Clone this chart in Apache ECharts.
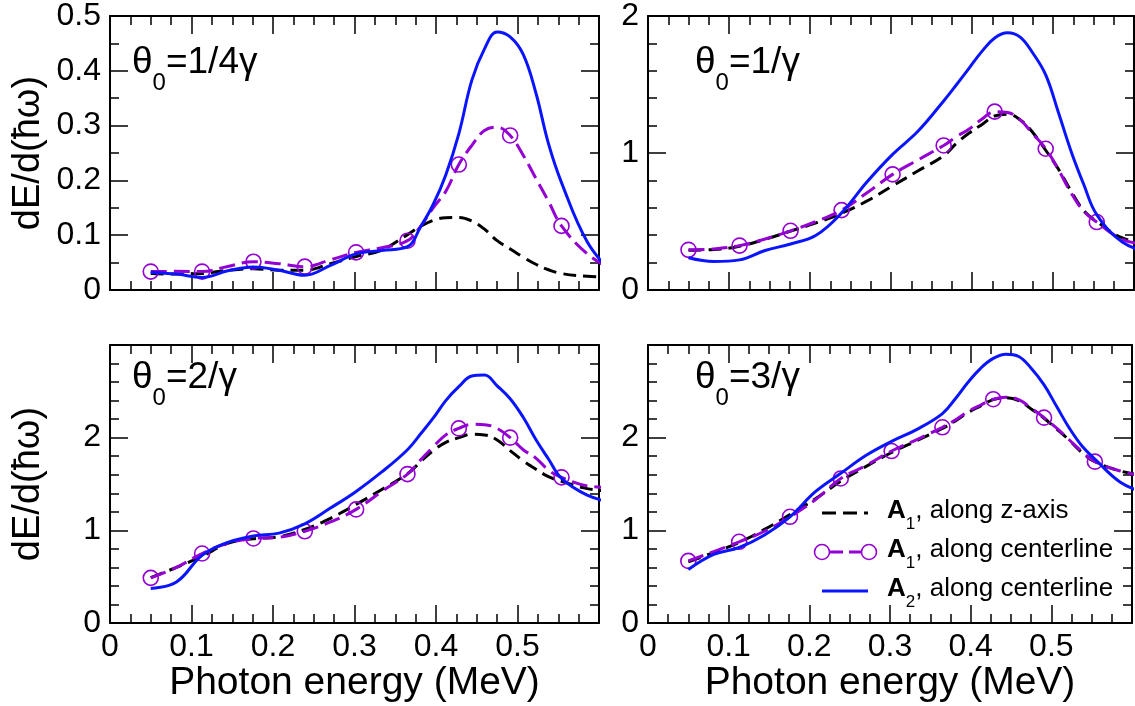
<!DOCTYPE html>
<html>
<head>
<meta charset="utf-8">
<script src="https://cdn.jsdelivr.net/npm/echarts@6/dist/echarts.min.js"></script>
<style>html,body{margin:0;padding:0;background:#fff}#c{width:1135px;height:706px}</style>
</head>
<body>
<div id="c"></div>
<script>
// ---- data (photon energy in MeV, dE/d(hbar omega)) ----
const X = [0.05, 0.0815, 0.113, 0.1445, 0.176, 0.2075, 0.239, 0.2705, 0.302, 0.3335, 0.365, 0.381, 0.3965, 0.412, 0.428, 0.444, 0.4595, 0.475, 0.491, 0.507, 0.5225, 0.538, 0.554, 0.5855, 0.617];
// x positions carrying the circle markers of the "A1, along centerline" curves
const markerX = [0.05, 0.113, 0.176, 0.239, 0.302, 0.365, 0.428, 0.491, 0.554];

// theta0 = 1/(4 gamma)
const tlZaxisA1 = [0.030, 0.029, 0.030, 0.036, 0.039, 0.036, 0.036, 0.048, 0.061, 0.073, 0.101, 0.116, 0.127, 0.132, 0.1325, 0.126, 0.111, 0.090, 0.075, 0.060, 0.047, 0.037, 0.030, 0.025, 0.023];
const tlCenterA1 = [0.0336, 0.034, 0.0336, 0.043, 0.0516, 0.048, 0.0426, 0.055, 0.0687, 0.077, 0.090, 0.116, 0.150, 0.18, 0.229, 0.264, 0.291, 0.297, 0.282, 0.246, 0.204, 0.162, 0.117, 0.066, 0.036];
const tlCenterA2 = [0.032, 0.029, 0.023, 0.035, 0.042, 0.036, 0.027, 0.045, 0.066, 0.072, 0.079, 0.115, 0.156, 0.21, 0.285, 0.383, 0.44, 0.471, 0.462, 0.43, 0.36, 0.267, 0.196, 0.088, 0.030];

// theta0 = 1/gamma
const trZaxisA1 = [0.29, 0.295, 0.32, 0.37, 0.43, 0.49, 0.56, 0.65, 0.76, 0.87, 0.98, 1.072, 1.146, 1.207, 1.27, 1.283, 1.242, 1.15, 1.02, 0.88, 0.72, 0.58, 0.50, 0.38, 0.34];
const trCenterA1 = [0.293, 0.30, 0.324, 0.372, 0.432, 0.50, 0.583, 0.71, 0.844, 0.95, 1.055, 1.12, 1.175, 1.247, 1.302, 1.295, 1.242, 1.14, 1.031, 0.875, 0.707, 0.575, 0.496, 0.37, 0.33];
const trCenterA2 = [0.235, 0.208, 0.22, 0.288, 0.336, 0.40, 0.563, 0.79, 0.99, 1.16, 1.38, 1.50, 1.62, 1.74, 1.84, 1.878, 1.846, 1.73, 1.57, 1.29, 1.01, 0.77, 0.55, 0.35, 0.28];

// theta0 = 2/gamma
const blZaxisA1 = [0.49, 0.60, 0.72, 0.86, 0.91, 0.93, 1.01, 1.13, 1.28, 1.44, 1.61, 1.74, 1.86, 1.95, 2.00, 2.036, 2.03, 1.975, 1.86, 1.75, 1.66, 1.58, 1.53, 1.45, 1.42];
const blCenterA1 = [0.487, 0.60, 0.75, 0.86, 0.912, 0.925, 0.99, 1.09, 1.226, 1.42, 1.607, 1.76, 1.90, 2.03, 2.10, 2.144, 2.14, 2.10, 2.00, 1.87, 1.78, 1.65, 1.572, 1.48, 1.46];
const blCenterA2 = [0.372, 0.443, 0.73, 0.87, 0.94, 0.97, 1.07, 1.24, 1.42, 1.63, 1.87, 2.04, 2.21, 2.40, 2.55, 2.665, 2.675, 2.56, 2.42, 2.22, 1.98, 1.77, 1.56, 1.38, 1.30];

// theta0 = 3/gamma
const brZaxisA1 = [0.66, 0.76, 0.87, 1.01, 1.17, 1.34, 1.53, 1.69, 1.84, 1.97, 2.10, 2.18, 2.27, 2.34, 2.41, 2.43, 2.40, 2.31, 2.21, 2.09, 1.97, 1.84, 1.74, 1.64, 1.59];
const brCenterA1 = [0.67, 0.77, 0.876, 0.99, 1.146, 1.33, 1.56, 1.70, 1.856, 1.98, 2.112, 2.19, 2.28, 2.35, 2.415, 2.437, 2.41, 2.32, 2.216, 2.10, 1.975, 1.85, 1.741, 1.64, 1.58];
const brCenterA2 = [0.577, 0.74, 0.815, 0.95, 1.146, 1.417, 1.615, 1.81, 1.96, 2.09, 2.26, 2.42, 2.595, 2.746, 2.855, 2.90, 2.876, 2.75, 2.57, 2.33, 2.10, 1.91, 1.77, 1.52, 1.40];

// tick labels
const xTickLabels = ['0', '0.1', '0.2', '0.3', '0.4', '0.5', ''];
const yTickLabelsTL = ['0', '0.1', '0.2', '0.3', '0.4', '0.5'];
const yTickLabelsTR = ['0', '1', '2'];
const yTickLabelsBottom = ['0', '1', '2', ''];

const seriesNames = ['A1, along z-axis', 'A1, along centerline', 'A2, along centerline'];
const panelTitles = ['=1/4γ', '=1/γ', '=2/γ', '=3/γ'];

// ---- layout & style ----
const FONT = 'Liberation Sans, Arial, Helvetica, sans-serif';
const BLACK = '#000000', PURPLE = '#9400d3', BLUE = '#0a14ff';

const panels = [
  { grid: { left: 110, top: 13, width: 489, height: 277 }, yMax: 0.5, yInt: 0.1, yMinor: 2, yLabels: yTickLabelsTL, bottom: false, left: true, title: [132, 44], data: [tlZaxisA1, tlCenterA1, tlCenterA2] },
  { grid: { left: 648, top: 13, width: 486, height: 277 }, yMax: 2, yInt: 1, yMinor: 5, yLabels: yTickLabelsTR, bottom: false, left: false, title: [695, 44], data: [trZaxisA1, trCenterA1, trCenterA2] },
  { grid: { left: 110, top: 345, width: 489, height: 278 }, yMax: 3, yInt: 1, yMinor: 5, yLabels: yTickLabelsBottom, bottom: true, left: true, title: [132, 359], data: [blZaxisA1, blCenterA1, blCenterA2] },
  { grid: { left: 648, top: 345, width: 486, height: 278 }, yMax: 3, yInt: 1, yMinor: 5, yLabels: yTickLabelsBottom, bottom: true, left: false, title: [695, 359], data: [brZaxisA1, brCenterA1, brCenterA2] }
];

const lineAxis = { show: true, onZero: false, lineStyle: { color: BLACK, width: 2 } };
const tick = { show: true, inside: true, length: 18, lineStyle: { color: BLACK, width: 1.5 } };
function minor(n) { return { show: true, splitNumber: n, length: 9, lineStyle: { color: BLACK, width: 1.5 } }; }

const grids = [], xAxes = [], yAxes = [], series = [], titles = [];

panels.forEach((p, i) => {
  grids.push(Object.assign({}, p.grid));
  const xBase = { gridIndex: i, type: 'value', min: 0, max: 0.6, interval: 0.1, axisLine: lineAxis, axisTick: tick, minorTick: minor(4), splitLine: { show: false } };
  xAxes.push(Object.assign({}, xBase, {
    position: 'bottom',
    axisLabel: { show: p.bottom, margin: 8, color: BLACK, fontSize: 32, fontFamily: FONT, formatter: (v) => xTickLabels[Math.round(v / 0.1)] || '' },
    name: p.bottom ? 'Photon energy (MeV)' : '', nameLocation: 'middle', nameGap: 40,
    nameTextStyle: { color: BLACK, fontSize: 39, fontFamily: FONT }
  }));
  xAxes.push(Object.assign({}, xBase, { position: 'top', axisLabel: { show: false } }));
  const yBase = { gridIndex: i, type: 'value', min: 0, max: p.yMax, interval: p.yInt, axisLine: lineAxis, axisTick: tick, minorTick: minor(p.yMinor), splitLine: { show: false } };
  yAxes.push(Object.assign({}, yBase, {
    position: 'left',
    axisLabel: { show: true, margin: 9, color: BLACK, fontSize: 32, fontFamily: FONT, formatter: (v) => p.yLabels[Math.round(v / p.yInt)] || '' },
    name: p.left ? 'dE/d(ħω)' : '', nameLocation: 'middle', nameGap: 62, nameRotate: 90,
    nameTextStyle: { color: BLACK, fontSize: 38, fontFamily: FONT }
  }));
  yAxes.push(Object.assign({}, yBase, { position: 'right', axisLabel: { show: false } }));

  const xa = 2 * i, ya = 2 * i;
  series.push({
    name: seriesNames[0], type: 'line', xAxisIndex: xa, yAxisIndex: ya, smooth: 0.4, symbol: 'none', clip: true,
    lineStyle: { color: BLACK, width: 3, type: [13, 7] }, z: 2,
    data: X.map((x, k) => [x, p.data[0][k]])
  });
  series.push({
    name: seriesNames[1], type: 'line', xAxisIndex: xa, yAxisIndex: ya, smooth: 0.4, clip: true, showSymbol: true,
    symbolSize: 15, lineStyle: { color: PURPLE, width: 3, type: [16, 7] },
    itemStyle: { color: 'rgba(255,255,255,0)', borderColor: PURPLE, borderWidth: 1.6 }, z: 3,
    data: X.map((x, k) => ({ value: [x, p.data[1][k]], symbol: markerX.indexOf(x) >= 0 ? 'circle' : 'none' }))
  });
  series.push({
    name: seriesNames[2], type: 'line', xAxisIndex: xa, yAxisIndex: ya, smooth: 0.4, symbol: 'none', clip: true,
    lineStyle: { color: BLUE, width: 3 }, z: 4,
    data: X.map((x, k) => [x, p.data[2][k]])
  });

  titles.push({
    text: '{t|θ}{s|0}{t|' + panelTitles[i] + '}', left: p.title[0], top: p.title[1], padding: 0,
    textStyle: {
      fontWeight: 'normal',
      rich: {
        t: { fontSize: 37, fontWeight: 'normal', fontFamily: FONT, color: BLACK, lineHeight: 42, verticalAlign: 'top' },
        s: { fontSize: 24, fontWeight: 'normal', fontFamily: FONT, color: BLACK, lineHeight: 78 }
      }
    }
  });
});

// legend drawn in the lower-right panel
function legendText(sub, rest, y) {
  return {
    type: 'text', left: 887, top: y - 15, z: 10,
    style: {
      text: '{b|A}{s|' + sub + '}{n|' + rest + '}',
      rich: {
        b: { fontSize: 26, fontWeight: 'bold', fontFamily: FONT, fill: BLACK, lineHeight: 30, verticalAlign: 'top' },
        s: { fontSize: 17, fontFamily: FONT, fill: BLACK, lineHeight: 53 },
        n: { fontSize: 26, fontFamily: FONT, fill: BLACK, lineHeight: 30, verticalAlign: 'top' }
      }
    }
  };
}
const rowY = [513, 552, 591];
const graphic = [
  { type: 'line', z: 10, shape: { x1: 822, y1: rowY[0], x2: 868, y2: rowY[0] }, style: { stroke: BLACK, lineWidth: 3, lineDash: [14, 7] } },
  { type: 'line', z: 10, shape: { x1: 830, y1: rowY[1], x2: 862, y2: rowY[1] }, style: { stroke: PURPLE, lineWidth: 3, lineDash: [13, 6] } },
  { type: 'circle', z: 10, shape: { cx: 822, cy: rowY[1], r: 7.5 }, style: { fill: 'none', stroke: PURPLE, lineWidth: 1.6 } },
  { type: 'circle', z: 10, shape: { cx: 869, cy: rowY[1], r: 7.5 }, style: { fill: 'none', stroke: PURPLE, lineWidth: 1.6 } },
  { type: 'line', z: 10, shape: { x1: 822, y1: rowY[2], x2: 868, y2: rowY[2] }, style: { stroke: BLUE, lineWidth: 3 } },
  legendText('1', ', along z-axis', rowY[0]),
  legendText('1', ', along centerline', rowY[1]),
  legendText('2', ', along centerline', rowY[2])
];

const chart = echarts.init(document.getElementById('c'), null, { renderer: 'canvas' });
chart.setOption({
  animation: false,
  backgroundColor: '#ffffff',
  title: titles,
  grid: grids,
  xAxis: xAxes,
  yAxis: yAxes,
  series: series,
  graphic: graphic
});
</script>
</body>
</html>
